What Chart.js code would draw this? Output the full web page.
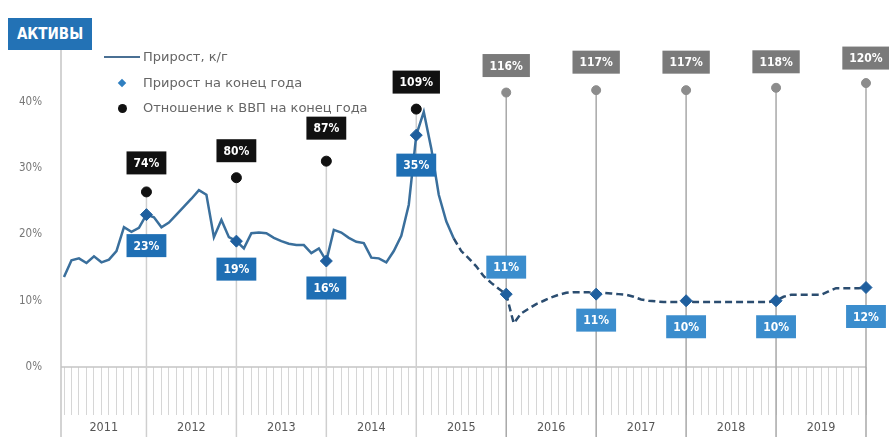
<!DOCTYPE html>
<html>
<head>
<meta charset="utf-8">
<script src="https://cdn.jsdelivr.net/npm/chart.js@4"></script>
<style>
  body { margin: 0; background: #fff; }
  #wrap { position: relative; width: 889px; height: 437px; }
  #title {
    position: absolute; left: 8px; top: 18px; width: 84px; height: 32px;
    background: #2372b5; color: #fff; font: bold 15px "Liberation Sans Narrow", "DejaVu Sans Condensed", sans-serif;
    line-height: 32px; text-align: center;
  }
  .leg { position: absolute; left: 143px; font: 13px "DejaVu Sans", sans-serif; color: #666; }
  .sym { position: absolute; }
</style>
</head>
<body>
<div id="wrap">
  <canvas id="chart" width="889" height="437"></canvas>
  <div id="title">АКТИВЫ</div>
  <div class="sym" style="left:104px;top:56px;width:36px;height:2px;background:#4a7094"></div>
  <div class="leg" style="top:49px">Прирост, к/г</div>
  <div class="sym" style="left:119px;top:80px;width:6px;height:6px;background:#2f7fc0;transform:rotate(45deg)"></div>
  <div class="leg" style="top:75px">Прирост на конец года</div>
  <div class="sym" style="left:118px;top:104px;width:9px;height:9px;border-radius:50%;background:#111"></div>
  <div class="leg" style="top:100px">Отношение к ВВП на конец года</div>
</div>
<script>
'use strict';

const years = ['2011', '2012', '2013', '2014', '2015', '2016', '2017', '2018', '2019'];

// прирост к/г по месяцам, %
const growth = [
    13.6, 16.1, 16.4, 15.7, 16.7, 15.8, 16.2, 17.5, 21.1, 20.4, 21.0, 23.0,
    22.6, 21.1, 21.8, 23.0, 24.2, 25.4, 26.7, 26.0, 19.6, 22.2, 19.6, 19.0,
    17.9, 20.2, 20.3, 20.2, 19.5, 19.0, 18.6, 18.4, 18.4, 17.2, 17.9, 16.0,
    20.7, 20.3, 19.5, 18.9, 18.7, 16.5, 16.4, 15.8, 17.5, 19.8, 24.5, 35.0,
    38.5, 33.0, 26.0, 22.0, 19.4, 17.5, 16.4, 15.2, 13.7, 12.7, 11.8, 11.0,
    6.6, 8.1, 8.8, 9.5, 10.0, 10.5, 10.9, 11.2, 11.3, 11.3, 11.3, 11.0,
    11.2, 11.1, 11.0, 10.9, 10.6, 10.2, 10.0, 9.9, 9.8, 9.8, 9.8, 10.0,
    9.8, 9.8, 9.8, 9.8, 9.8, 9.8, 9.8, 9.8, 9.8, 9.8, 9.8, 10.0,
    10.6, 10.9, 10.9, 10.9, 10.9, 10.9, 11.4, 11.9, 11.9, 11.9, 11.9, 12.0
];
const forecastFrom = 52; // dashed part starts here

const yearEndGrowth = [23, 19, 16, 35, 11, 11, 10, 10, 12];
const gdpRatio = [74, 80, 87, 109, 116, 117, 117, 118, 120];
const firstForecastYear = 4;
const yTicks = [0, 10, 20, 30, 40];

const months = [];
years.forEach(y => {
    for (let m = 1; m <= 12; m++) months.push(y + '-' + String(m).padStart(2, '0'));
});
const yearEnds = years.map(y => y + '-12');

// label offsets
const growthLabelDy = [31, 28, 27, 30, -27, 26, 26, 26, 29];
const ratioLabelDy = [-29, -27, -33, -27, -27, -28, -28, -26, -25];

const FONT = '"Liberation Sans Narrow", "DejaVu Sans Condensed", sans-serif';

function box(ctx, x, y, text, bg) {
    ctx.font = 'bold 12px ' + FONT;
    const w = ctx.measureText(text).width + 14;
    const h = 23;
    ctx.fillStyle = bg;
    ctx.fillRect(x - w / 2, y - h / 2, w, h);
    ctx.fillStyle = '#fff';
    ctx.textAlign = 'center';
    ctx.textBaseline = 'middle';
    ctx.fillText(text, x, y + 1);
}

const decorPlugin = {
    id: 'decor',
    beforeDatasetsDraw(chart) {
        const ctx = chart.ctx;
        const xs = chart.scales.x;
        const ys = chart.scales.y;
        const area = chart.chartArea;
        const dots = chart.getDatasetMeta(2).data;
        const axisX = area.left - 3;
        ctx.save();
        // left axis line and 0% line
        ctx.strokeStyle = '#c4c4c4';
        ctx.lineWidth = 1.5;
        ctx.beginPath();
        ctx.moveTo(axisX, 50);
        ctx.lineTo(axisX, chart.height);
        ctx.stroke();
        ctx.beginPath();
        ctx.moveTo(axisX, ys.getPixelForValue(0));
        ctx.lineTo(area.right, ys.getPixelForValue(0));
        ctx.stroke();
        // year-end drop lines
        yearEnds.forEach((m, i) => {
            const x = xs.getPixelForValue(months.indexOf(m));
            ctx.strokeStyle = i < firstForecastYear ? '#cfcfcf' : '#a8a8a8';
            ctx.lineWidth = 1.5;
            ctx.beginPath();
            ctx.moveTo(x, dots[i].y);
            ctx.lineTo(x, chart.height);
            ctx.stroke();
        });
        // year labels
        ctx.fillStyle = '#555';
        ctx.font = '12.5px ' + FONT;
        ctx.textAlign = 'center';
        ctx.textBaseline = 'middle';
        years.forEach((y, i) => {
            const x0 = i === 0 ? axisX : xs.getPixelForValue(months.indexOf(years[i - 1] + '-12'));
            const x1 = xs.getPixelForValue(months.indexOf(y + '-12'));
            ctx.fillText(y, (x0 + x1) / 2, 428);
        });
        ctx.restore();
    },
    afterDatasetsDraw(chart) {
        const ctx = chart.ctx;
        const diamonds = chart.getDatasetMeta(1).data;
        const dots = chart.getDatasetMeta(2).data;
        ctx.save();
        yearEndGrowth.forEach((v, i) => {
            const p = diamonds[i];
            box(ctx, p.x, p.y + growthLabelDy[i], v + '%', i < firstForecastYear ? '#1f6fb4' : '#3b8dcd');
        });
        gdpRatio.forEach((v, i) => {
            const p = dots[i];
            box(ctx, p.x, p.y + ratioLabelDy[i], v + '%', i < firstForecastYear ? '#111111' : '#7a7a7a');
        });
        ctx.restore();
    }
};

new Chart(document.getElementById('chart'), {
    type: 'line',
    data: {
        labels: months,
        datasets: [
            {
                label: 'Прирост, к/г',
                data: growth,
                borderColor: '#3a6f9c',
                borderWidth: 2.5,
                pointRadius: 0,
                tension: 0,
                segment: {
                    borderDash: c => c.p0DataIndex >= forecastFrom ? [7, 4] : undefined,
                    borderColor: c => c.p0DataIndex >= forecastFrom ? '#2b4d70' : undefined
                },
                order: 3
            },
            {
                label: 'Прирост на конец года',
                data: yearEnds.map((m, i) => ({ x: m, y: yearEndGrowth[i] })),
                showLine: false,
                pointStyle: 'rectRot',
                pointRadius: 6,
                backgroundColor: '#1f5f9e',
                borderColor: '#1f5f9e',
                order: 2
            },
            {
                label: 'Отношение к ВВП на конец года',
                data: yearEnds.map((m, i) => ({ x: m, y: gdpRatio[i] })),
                yAxisID: 'y2',
                showLine: false,
                pointRadius: gdpRatio.map((v, i) => i < firstForecastYear ? 5 : 4.5),
                backgroundColor: gdpRatio.map((v, i) => i < firstForecastYear ? '#111111' : '#8c8c8c'),
                borderColor: gdpRatio.map((v, i) => i < firstForecastYear ? '#111111' : '#8c8c8c'),
                order: 1
            }
        ]
    },
    options: {
        responsive: false,
        animation: false,
        devicePixelRatio: 1,
        layout: { padding: { top: 49, right: 23, left: 0, bottom: 0 } },
        plugins: { legend: { display: false }, tooltip: { enabled: false } },
        scales: {
            x: {
                type: 'category',
                grid: { drawOnChartArea: false, drawTicks: true, tickLength: 48, color: '#d6d6d6' },
                border: { display: false },
                ticks: { display: false },
                afterFit: s => { s.height = 70; }
            },
            y: {
                min: 0,
                max: 48,
                grid: { display: false },
                border: { display: false },
                afterBuildTicks: s => { s.ticks = yTicks.map(v => ({ value: v })); },
                ticks: {
                    padding: 14,
                    color: '#777',
                    font: { size: 11.5, family: FONT },
                    callback: v => v + '%'
                },
                afterFit: s => { s.width = 64; }
            },
            y2: {
                display: false,
                min: 0,
                max: 134.4
            }
        }
    },
    plugins: [decorPlugin]
});
</script>
</body>
</html>
